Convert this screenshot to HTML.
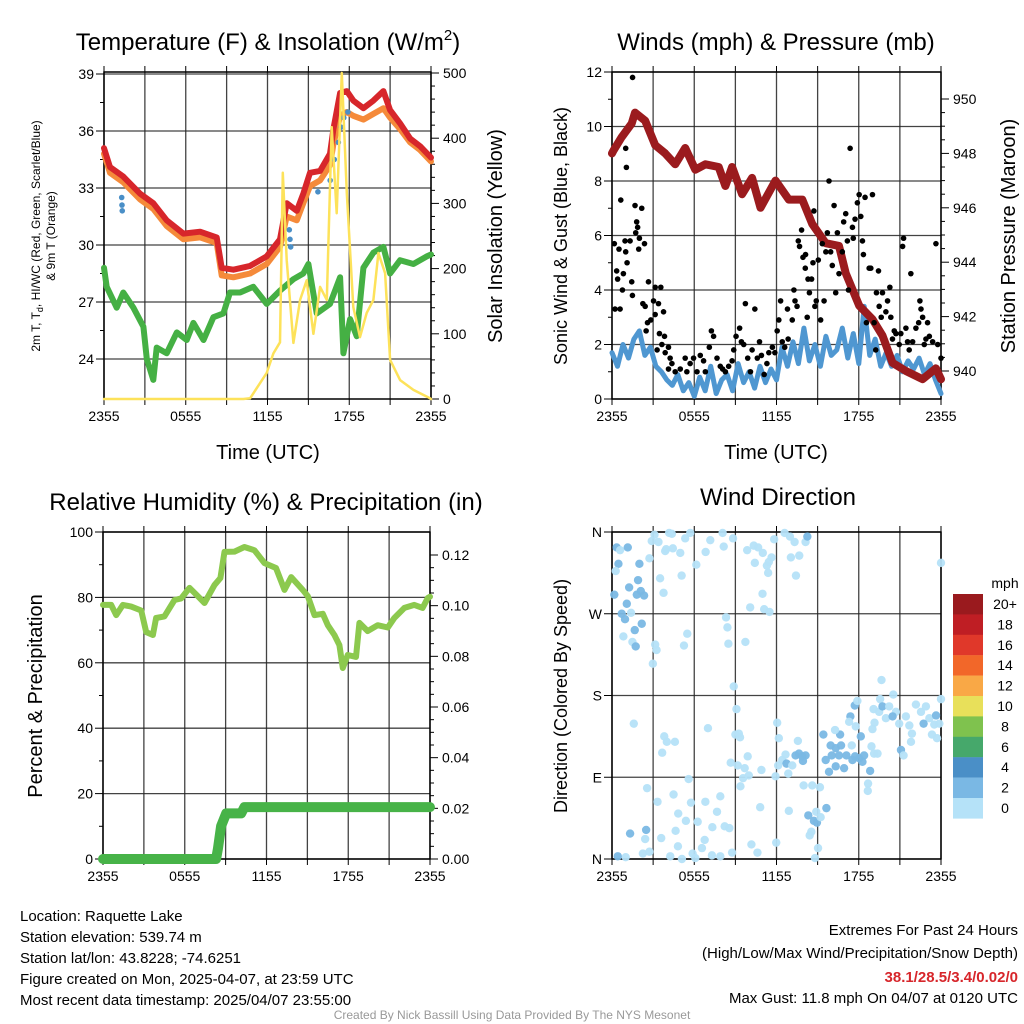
<!DOCTYPE html>
<html><head><meta charset="utf-8">
<style>
html,body{margin:0;padding:0;background:#fff;}
svg{display:block;font-family:"Liberation Sans",Arial,sans-serif;}
</style></head>
<body>
<svg id="chart" width="1024" height="1024" viewBox="0 0 1024 1024" xmlns="http://www.w3.org/2000/svg">
<rect x="0" y="0" width="1024" height="1024" fill="#fff"/>
<text x="268" y="50" font-size="24" text-anchor="middle">Temperature (F) &amp; Insolation (W/m<tspan font-size="15" dy="-10">2</tspan><tspan dy="10">)</tspan></text>
<text x="776" y="50" font-size="24" text-anchor="middle">Winds (mph) &amp; Pressure (mb)</text>
<text x="266" y="510" font-size="24" text-anchor="middle">Relative Humidity (%) &amp; Precipitation (in)</text>
<text x="778" y="505" font-size="24" text-anchor="middle">Wind Direction</text>

<text transform="translate(40,236) rotate(-90)" font-size="12" text-anchor="middle">2m T, T<tspan font-size="9" dy="3">d</tspan><tspan dy="-3">, HI/WC (Red, Green, Scarlet/Blue)</tspan></text>
<text transform="translate(55,236) rotate(-90)" font-size="12" text-anchor="middle">&amp; 9m T (Orange)</text>
<text transform="translate(502,236) rotate(-90)" font-size="20" text-anchor="middle">Solar Insolation (Yellow)</text>
<text x="268" y="459" font-size="20" text-anchor="middle">Time (UTC)</text>
<text transform="translate(567,236) rotate(-90)" font-size="18" text-anchor="middle">Sonic Wind &amp; Gust (Blue, Black)</text>
<text transform="translate(1015,236) rotate(-90)" font-size="20" text-anchor="middle">Station Pressure (Maroon)</text>
<text x="776" y="459" font-size="20" text-anchor="middle">Time (UTC)</text>
<text transform="translate(42,696) rotate(-90)" font-size="20" text-anchor="middle">Percent &amp; Precipitation</text>
<text transform="translate(567,696) rotate(-90)" font-size="18" text-anchor="middle">Direction (Colored By Speed)</text>

<g font-size="15">
<text x="20" y="921">Location: Raquette Lake</text>
<text x="20" y="942">Station elevation: 539.74 m</text>
<text x="20" y="963">Station lat/lon: 43.8228; -74.6251</text>
<text x="20" y="984">Figure created on Mon, 2025-04-07, at 23:59 UTC</text>
<text x="20" y="1005">Most recent data timestamp: 2025/04/07 23:55:00</text>
</g>
<g font-size="15" text-anchor="end">
<text x="1018" y="935">Extremes For Past 24 Hours</text>
<text x="1018" y="958">(High/Low/Max Wind/Precipitation/Snow Depth)</text>
<text x="1018" y="982" fill="#d7262b" font-weight="bold">38.1/28.5/3.4/0.02/0</text>
<text x="1018" y="1003">Max Gust: 11.8 mph On 04/07 at 0120 UTC</text>
</g>
<text x="512" y="1019" font-size="12" fill="#999" text-anchor="middle">Created By Nick Bassill Using Data Provided By The NYS Mesonet</text>
<g id="layer"></g>
</svg>
<script>
// ---------- DATA ----------
const timeTickHours=[0,6,12,18,24];
const timeTickLabels=["2355","0555","1155","1755","2355"];
const gridHours=[0,3,6,9,12,15,18,21,24];

const tempTicks=[24,27,30,33,36,39];
const solarTicks=[0,100,200,300,400,500];
const redHours=[0,0.44,1.42,2.65,3.62,4.6,5.83,7.05,8.27,8.64,9.5,10.72,11.94,12.92,13.41,14.15,14.63,15.12,15.86,16.59,16.84,17.33,17.82,18.3,19.04,19.77,20.51,21,21.73,22.47,23.2,24];
const redTemp=[35.1,34.1,33.6,32.7,32.2,31.3,30.6,30.7,30.4,28.8,28.7,28.9,29.4,30.3,32.2,31.8,32.7,33.8,33.9,34.8,36.1,38.0,38.1,37.6,37.2,37.6,38.1,37.1,36.4,35.6,35.2,34.6];
const orangeTemp=[34.8,33.8,33.3,32.4,31.9,31.0,30.3,30.4,30.1,28.4,28.3,28.5,29.0,29.9,31.5,31.3,32.2,33.1,33.4,34.2,35.3,36.8,37.0,36.8,36.6,36.9,37.2,36.7,36.1,35.4,35.0,34.4];
const greenHours=[0,0.2,0.93,1.42,2.16,2.89,3.14,3.62,3.87,4.6,5.34,6.07,6.56,7.3,8.03,8.76,9.25,9.99,10.96,11.94,12.92,13.9,14.63,15.0,15.61,16.59,17.33,17.57,18.06,18.55,19.04,19.77,20.51,21.0,21.73,22.71,23.69,24];
const greenTemp=[28.8,27.8,26.7,27.5,26.7,25.7,24.0,22.9,24.6,24.3,25.4,25.0,25.9,25.0,26.2,26.4,27.5,27.5,27.8,26.9,27.6,28.2,28.5,29.0,26.4,26.9,28.3,24.3,26.1,25.2,28.8,29.6,29.9,28.5,29.2,29.0,29.4,29.5];
const blueTHours=[1.3,1.32,1.34,13.6,13.65,13.7,15.7,16.6,16.9,17.2,17.4,17.6,17.9];
const blueTemp=[32.5,32.1,31.8,30.8,30.3,29.9,32.8,33.4,34.5,35.4,36.2,36.7,37.0];
const solarHours=[0,10.23,10.72,11.94,12.43,12.92,13.12,13.41,13.9,14.39,14.88,15.37,15.86,16.35,16.71,17.08,17.45,17.82,18.3,18.79,19.28,19.77,20.14,20.63,21,21.73,22.71,23.93,24];
const solarVals=[0,0,1,40,70,87,347,213,86,152,182,100,172,152,417,285,500,316,141,95,132,152,224,193,60,29,14,1,0];

const windTicks=[0,2,4,6,8,10,12];
const presTicks=[940,942,944,946,948,950];
const presHours=[0.0,0.1,0.71,1.44,1.68,2.42,3.15,3.88,4.61,5.34,6.08,6.81,7.78,8.27,8.76,9.49,10.22,10.83,11.93,12.9,13.88,14.61,15.59,16.56,17.05,18.03,19.0,19.73,20.46,21.44,22.66,23.63,24];
const presVals=[948.0,948.1,948.6,949.1,949.5,949.2,948.3,948.0,947.6,948.2,947.4,947.6,947.5,946.8,947.5,946.5,947.1,946.0,947.0,946.3,946.3,945.4,944.7,944.6,943.6,942.4,941.9,941.3,940.3,940.0,939.7,940.1,939.7];
const windHours=[0,0.4,0.8,1.2,1.6,2.0,2.4,2.8,3.2,3.6,4.0,4.4,4.8,5.2,5.6,6.0,6.4,6.8,7.2,7.6,8.0,8.4,8.8,9.2,9.6,10.0,10.4,10.8,11.2,11.6,12.0,12.4,12.8,13.2,13.6,14.0,14.4,14.8,15.2,15.6,16.0,16.4,16.8,17.2,17.6,18.0,18.4,18.8,19.2,19.6,20.0,20.4,20.8,21.2,21.6,22.0,22.4,22.8,23.2,23.6,24.0];
const windVals=[1.7,1.2,2.0,1.5,2.2,2.5,1.6,1.9,1.2,1.0,0.7,0.5,0.9,0.3,0.6,0.1,0.8,0.3,1.2,0.2,0.7,0.9,0.3,1.3,0.6,1.0,0.4,1.2,0.6,1.1,0.7,1.9,1.2,2.1,1.3,2.6,1.4,2.0,1.2,2.3,1.6,1.8,2.6,1.5,2.4,1.3,3.4,1.6,2.2,1.2,1.7,1.2,1.6,1.0,1.4,1.1,1.5,0.9,1.3,0.7,0.2];
const gustHours=[1.5,1.0,1.05,0.64,1.68,2.17,1.8,1.87,1.73,0.17,0.95,1.32,2.0,2.37,0.51,1.95,1.0,1.1,0.34,0.41,0.83,0.76,1.44,1.49,2.66,3.15,3.56,2.25,2.42,3.03,3.39,0.22,0.59,3.76,3.15,2.59,2.83,2.49,3.46,3.83,3.64,4.12,3.29,3.88,4.24,4.37,4.12,4.61,4.98,5.34,5.46,5.7,5.95,6.2,6.44,6.68,6.81,7.1,7.25,7.41,7.66,7.9,8.07,8.27,8.51,8.76,8.88,9.05,9.31,9.44,9.61,9.73,9.9,10.1,10.22,10.42,10.6,10.76,10.9,11.1,11.3,11.44,11.7,11.88,12.05,12.17,12.3,12.42,12.6,12.8,12.85,13.15,13.27,13.35,13.5,13.59,13.68,13.83,13.93,14.1,14.12,14.24,14.3,14.4,14.56,14.66,14.73,14.8,14.9,15.05,15.22,15.34,15.47,15.6,15.71,15.83,15.95,16.07,16.2,16.32,16.44,16.56,16.8,16.9,17.05,17.17,17.25,17.37,17.54,17.6,17.73,17.9,18.03,18.15,18.27,18.34,18.46,18.56,18.76,18.88,19.0,19.12,19.24,19.29,19.44,19.49,19.64,19.73,19.98,20.1,20.27,20.34,20.46,20.59,20.71,20.95,21.07,21.2,21.27,21.44,21.56,21.68,21.8,21.93,22.17,22.37,22.46,22.54,22.66,22.78,22.9,23.02,23.15,23.39,23.63,23.76,24.0];
const gustVals=[11.8,9.2,8.5,7.3,7.1,7.0,6.5,6.3,6.1,5.7,5.8,5.8,5.9,5.7,5.5,5.5,5.4,5.0,4.7,4.4,4.6,4.0,4.3,3.8,4.3,4.1,4.1,3.5,3.4,3.6,3.5,3.3,3.3,3.2,3.1,2.8,2.9,2.5,2.4,2.3,2.0,1.9,1.8,1.7,1.5,1.3,1.1,1.0,1.1,1.5,1.0,1.3,1.5,1.0,1.6,1.4,1.0,1.9,2.5,2.3,1.5,1.2,1.1,1.0,1.2,1.4,1.8,2.3,2.6,2.1,2.0,3.5,1.5,1.0,1.8,3.3,1.5,2.1,1.6,0.9,1.3,1.7,1.9,1.7,2.5,2.9,3.6,2.1,1.9,3.3,2.2,2.9,4.0,3.6,3.4,5.8,5.6,6.2,5.2,4.8,5.3,3.0,4.4,3.9,4.4,5.0,6.9,3.4,3.6,5.1,2.9,5.7,3.6,5.4,6.1,8.0,5.4,4.9,7.1,3.9,6.1,4.6,5.4,6.5,6.8,5.8,4.0,9.2,6.3,5.9,6.6,7.2,7.5,6.7,5.8,5.3,7.4,2.8,4.8,4.8,7.5,2.8,1.8,3.9,4.7,3.4,3.0,3.9,3.2,3.6,4.1,3.0,2.2,2.5,2.4,2.0,2.4,5.6,5.9,2.6,2.1,1.8,4.6,2.1,2.6,2.8,3.6,3.3,3.0,2.0,2.2,2.8,2.3,2.1,5.7,2.0,1.5];

const rhTicks=[0,20,40,60,80,100];
const precipTicks=[0,0.02,0.04,0.06,0.08,0.10,0.12];
const rhHours=[0,0.6,0.97,1.46,2.07,2.8,3.17,3.66,3.9,4.51,5.25,5.74,6.35,6.96,7.45,8.18,8.62,8.92,9.65,10.38,11.12,11.85,12.7,13.32,13.81,14.66,15.03,15.52,16.13,16.5,16.98,17.35,17.6,17.96,18.57,18.82,19.43,20.16,20.9,21.38,22.12,22.85,23.46,23.83,24];
const rhVals=[77.7,77.7,74.6,77.7,77.2,76.0,69.4,68.5,73.7,74.2,79.2,79.7,82.9,80.4,78.3,83.8,85.9,93.9,94.0,95.4,94.4,90.5,89.0,82.3,86.2,82.3,80.4,74.6,75.0,71.5,68.5,65.4,58.4,62.4,61.8,72.2,69.7,71.5,70.8,73.7,76.8,77.7,76.8,79.8,80.2];
const precipHours=[0,8.3,8.43,8.67,9.04,10.14,10.38,24];
const precipVals=[0,0,0.004,0.013,0.018,0.018,0.0205,0.0205];

const dirTicks=[0,90,180,270,360];
const dirTickLabels=["N","E","S","W","N"];
const dirHours=[0.34,0.59,1.15,0.47,0.27,2.0,0.17,1.25,1.9,1.81,2.1,2.34,1.08,0.71,1.39,0.95,2.17,1.66,0.83,1.49,1.73,3.1,2.9,3.39,4.17,4.37,3.95,3.88,4.44,4.98,5.34,5.71,7.17,8.15,8.07,8.83,6.83,6.15,5.08,3.51,3.76,2.73,10.34,10.66,9.86,11.0,11.64,11.44,11.3,11.39,10.42,11.83,12.59,12.98,13.32,14.12,14.25,13.05,13.66,13.42,10.98,10.08,11.1,11.49,8.32,8.42,8.49,9.73,5.49,5.25,3.15,3.25,2.98,24.0,8.88,9.08,7.0,12.05,12.17,9.0,9.25,9.34,3.81,4.0,4.59,3.66,8.66,9.17,9.9,9.68,9.98,9.56,9.37,10.9,11.93,12.12,12.42,12.66,12.86,13.56,12.73,13.39,13.64,13.88,14.12,13.93,13.15,15.42,15.95,16.32,16.64,16.71,16.27,17.49,16.03,15.59,15.83,16.32,16.56,16.93,17.1,17.54,17.73,18.03,18.39,18.27,18.83,18.15,17.71,17.39,17.3,17.78,17.9,19.12,18.93,19.37,21.08,21.27,19.66,19.56,20.52,19.08,19.49,19.73,20.22,20.71,20.95,21.44,21.69,21.88,22.17,22.54,22.9,23.15,22.73,23.64,23.51,23.88,24.0,23.34,23.71,21.81,19.15,19.0,19.98,20.47,1.59,2.56,3.32,4.49,5.59,5.76,5.39,4.83,4.64,3.59,2.42,2.49,1.32,1.0,0.42,2.25,2.73,4.25,5.1,5.88,6.08,6.56,6.76,7.29,7.9,6.81,7.66,7.9,7.32,8.22,8.56,6.25,4.81,8.76,10.17,10.61,10.81,11.98,12.9,13.98,15.17,14.61,14.9,14.32,14.73,14.95,15.64,15.22,14.54,14.42,15.03,14.81,18.68,18.66];
const dirDeg=[343,340,343,325,317,325,291,299,307,291,295,290,281,270,271,264,259,252,245,239,234,357,350,349,359,358,341,339,342,337,353,359,351,344,359,353,338,324,312,309,293,331,345,343,340,337,332,327,323,315,326,352,359,355,349,349,355,332,334,312,292,277,275,272,266,255,237,239,248,235,236,230,215,326,190,165,144,150,133,137,138,134,135,129,129,117,106,103,113,100,92,89,80,98,91,103,109,115,94,130,105,114,116,113,114,108,103,137,125,122,137,125,142,125,114,109,96,102,114,100,114,109,113,111,114,107,97,135,169,157,151,146,174,116,124,116,120,114,197,176,181,165,162,168,168,162,149,157,147,138,170,162,168,155,149,158,148,149,176,137,133,129,150,143,155,157,149,78,63,71,88,62,42,50,31,23,22,32,28,2,3,6,8,3,0,6,1,12,21,4,3,63,52,69,35,36,34,41,14,7,16,7,57,18,53,81,79,81,52,48,42,40,56,46,30,26,12,1,83,75];
const dirSpeed=[3,1,3,3,1,3,3,3,3,3,3,3,3,3,1,3,3,3,1,1,3,1,1,1,1,1,1,1,1,1,1,1,1,1,1,1,1,1,1,1,1,1,1,1,1,1,1,1,1,1,1,1,1,1,1,1,3,1,1,1,1,1,1,1,1,1,1,1,1,1,1,1,1,1,1,1,1,1,1,1,1,1,1,1,1,1,1,1,1,1,1,1,1,1,1,1,1,1,1,1,3,3,3,3,3,3,1,3,3,3,3,3,1,1,3,3,3,3,3,3,3,3,3,3,3,3,3,3,3,3,1,1,1,1,1,1,3,1,1,1,1,1,1,3,1,1,1,1,1,1,1,1,1,1,3,3,1,1,1,1,1,1,1,1,1,3,1,1,1,1,1,1,1,1,1,1,1,3,3,1,3,1,1,1,1,1,1,1,1,1,1,1,1,1,1,1,1,1,1,1,1,1,1,1,1,1,1,1,1,3,3,3,3,1,1,1,1,1,1,1];
const speedBins=["0","2","4","6","8","10","12","14","16","18","20+"];
const speedColors=["#b5e2f8","#7ab8e4","#4a8fc7","#46a86b","#7fc24e","#e8e05a","#f9a846","#f26729","#e0382a","#bf1e24","#9a1a1e"];

// ---------- HELPERS ----------
const NS='http://www.w3.org/2000/svg';
const layer=document.getElementById('layer');
function mk(tag,attrs,parent){const e=document.createElementNS(NS,tag);for(const k in attrs)e.setAttribute(k,attrs[k]);(parent||layer).appendChild(e);return e;}
function linScale(d0,d1,r0,r1){return v=>r0+(v-d0)*(r1-r0)/(d1-d0);}
function pathD(xs,ys,sx,sy){return xs.map((h,i)=>(i?'L':'M')+sx(h).toFixed(1)+','+sy(ys[i]).toFixed(1)).join('');}

function frame(p){
  const g=mk('g',{});
  
  
  gridHours.forEach(h=>{
    const l=mk('line',{x1:p.sx(h),x2:p.sx(h),y1:p.top,y2:p.bottom,stroke:'#222','stroke-width':1.3,'stroke-opacity':0.85},g);
    
    
    mk('line',{x1:p.sx(h),x2:p.sx(h),y1:p.bottom,y2:p.bottom+6,stroke:'#000','stroke-width':1},g);
    mk('line',{x1:p.sx(h),x2:p.sx(h),y1:p.top,y2:p.top-6,stroke:'#000','stroke-width':1},g);
  });
  p.lTicks.forEach((v,i)=>{
    const y=p.sl(v);
    const l=mk('line',{x1:p.left,x2:p.right,y1:y,y2:y,stroke:'#222','stroke-width':1.3,'stroke-opacity':0.85},g);
    
    
    mk('line',{x1:p.left-8,x2:p.left,y1:y,y2:y,stroke:'#000','stroke-width':1},g);
    const t=mk('text',{x:p.left-10,y:y+5,'font-size':14,'text-anchor':'end'},g);
    t.textContent=p.lLabels?p.lLabels[i]:v;
    
    
    if(p.lMinor&&i<p.lTicks.length-1){const ym=p.sl(v+p.lMinor);mk('line',{x1:p.left-4,x2:p.left,y1:ym,y2:ym,stroke:'#000','stroke-width':1},g);}
  });
  if(p.rTicks){
    p.rTicks.forEach((v,i)=>{
      const y=p.sr(v);
      mk('line',{x1:p.right,x2:p.right+8,y1:y,y2:y,stroke:'#000','stroke-width':1},g);
      const t=mk('text',{x:p.right+12,y:y+5,'font-size':14},g);
      t.textContent=p.rFmt?p.rFmt(v):v;
      
      
      if(i<p.rTicks.length-1){for(let k=1;k<p.rMinorN;k++){const ym=p.sr(v+(p.rTicks[1]-p.rTicks[0])*k/p.rMinorN);mk('line',{x1:p.right,x2:p.right+4,y1:ym,y2:ym,stroke:'#000','stroke-width':1},g);}}
    });
  }
  timeTickHours.forEach((h,i)=>{
    const t=mk('text',{x:p.sx(h),y:p.bottom+22,'font-size':14,'text-anchor':'middle'},g);
    t.textContent=timeTickLabels[i];
    
    
  });
  mk('rect',{x:p.left,y:p.top,width:p.right-p.left,height:p.bottom-p.top,fill:'none',stroke:'#000','stroke-width':1.5},g);
}
function line(xs,ys,sx,sy,color,w,name){
  const e=mk('path',{d:pathD(xs,ys,sx,sy),fill:'none',stroke:color,'stroke-width':w,'stroke-linejoin':'round','stroke-linecap':'round'});
  
  
  return e;
}

// ---------- PANEL 1 ----------
const p1={name:'temperature',left:104,right:431,top:72,bottom:399};
p1.sx=linScale(0,24,p1.left,p1.right);
p1.sl=linScale(39,24,74,359);
p1.sr=linScale(0,500,399,73);
p1.lTicks=tempTicks;p1.lMinor=1.5;p1.rTicks=solarTicks;p1.rMinorN=5;
frame(p1);
line(greenHours,greenTemp,p1.sx,p1.sl,'#45b044',6,'dewpoint-line');
line(redHours,orangeTemp,p1.sx,p1.sl,'#f58a3a',6,'9m-temperature-line');
line(redHours,redTemp,p1.sx,p1.sl,'#d7262b',6,'2m-temperature-line');
blueTHours.forEach((h,i)=>{
  const c=mk('circle',{cx:p1.sx(h),cy:p1.sl(blueTemp[i]),r:2.8,fill:'#4a8fc7'});
  
  
});
line(solarHours,solarVals,p1.sx,p1.sr,'#fde25a',2.5,'solar-insolation-line');

// ---------- PANEL 2 ----------
const p2={name:'winds',left:612,right:941,top:72,bottom:399};
p2.sx=linScale(0,24,p2.left,p2.right);
p2.sl=linScale(0,12,399,72);
p2.sr=linScale(940,950,371,99);
p2.lTicks=windTicks;p2.lMinor=1;p2.rTicks=presTicks;p2.rMinorN=4;
frame(p2);
line(windHours,windVals,p2.sx,p2.sl,'#4f97d1',5,'sonic-wind-line');
line(presHours,presVals,p2.sx,p2.sr,'#9b1b1e',8,'station-pressure-line');
gustHours.forEach((h,i)=>{
  const c=mk('circle',{cx:p2.sx(h),cy:p2.sl(gustVals[i]),r:2.8,fill:'#000'});
  
  
});

// ---------- PANEL 3 ----------
const p3={name:'humidity',left:103,right:430,top:532,bottom:859};
p3.sx=linScale(0,24,p3.left,p3.right);
p3.sl=linScale(0,100,859,532);
p3.sr=linScale(0,0.12,859,555);
p3.lTicks=rhTicks;p3.lMinor=10;p3.rTicks=precipTicks;p3.rMinorN=4;p3.rFmt=v=>v.toFixed(2);
frame(p3);
line(rhHours,rhVals,p3.sx,p3.sl,'#8cc94e',6,'relative-humidity-line');
line(precipHours,precipVals,p3.sx,p3.sr,'#47b348',10,'precipitation-line');

// ---------- PANEL 4 ----------
const p4={name:'wind-direction',left:612,right:941,top:532,bottom:859};
p4.sx=linScale(0,24,p4.left,p4.right);
p4.sl=linScale(0,360,859,532);
p4.lTicks=dirTicks;p4.lLabels=dirTickLabels;
frame(p4);
dirHours.forEach((h,i)=>{
  const bin=Math.min(10,Math.floor(dirSpeed[i]/2));
  const c=mk('circle',{cx:p4.sx(h),cy:p4.sl(dirDeg[i]),r:4.2,fill:speedColors[bin],'fill-opacity':0.95});
  
  
});
// colorbar legend
const lg=mk('g',{});


const mt=mk('text',{x:1005,y:588,'font-size':14,'text-anchor':'middle'},lg);
mt.textContent='mph';


speedBins.forEach((b,i)=>{
  const k=10-i;const y=594+i*20.4;
  const r=mk('rect',{x:953,y:y,width:30,height:20.6,fill:speedColors[k]},lg);
  
  
  const t=mk('text',{x:1005,y:y+15,'font-size':14,'text-anchor':'middle'},lg);
  t.textContent=speedBins[k];
  
  
});
</script>
</body></html>
